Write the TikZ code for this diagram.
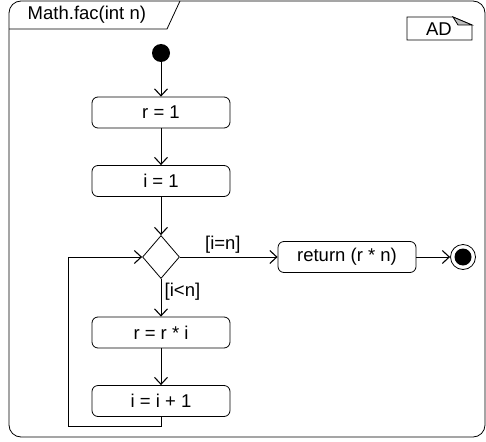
\documentclass[tikz,border=0pt]{standalone}
\usepackage{fontspec}
\setmainfont{Liberation Sans}
\usetikzlibrary{arrows.meta,shapes.geometric}

\begin{document}
\begin{tikzpicture}[x=1pt, y=-1pt, line width=0.8pt,
    >={Straight Barb[length=7pt,width=13pt,line width=1.1pt]},
    every node/.style={font=\fontsize{18.5}{21}\selectfont},
    action/.style={draw, rounded corners=6pt, minimum width=138pt,
      minimum height=31pt, inner sep=0pt},
    decision/.style={draw, diamond, minimum width=37pt,
      minimum height=43pt, inner sep=0pt},
    initial/.style={circle, fill, minimum size=18pt, inner sep=0pt},
    final/.style={circle, draw, minimum size=25pt, inner sep=0pt}]
  \useasboundingbox (0,0) rectangle (486,441);
  % frame
  \draw [rounded corners=12pt] (9,1) rectangle (485,437);
  \draw (9,29) -- (167,29) -- (180,1);
  \node (title) [anchor=west] at (24,15) {Math.fac(int n)};
  \draw (407,17) -- (453,17) -- (472,25) -- (472,40) -- (407,40) -- cycle;
  \filldraw [fill=black!25] (453,17) -- (472,25) -- (458,25) -- cycle;
  \node (ad) at (439,29) {AD};
  % nodes
  \node (start) [initial] at (161,53) {};
  \node (r1) [action] at (161,112.5) {r = 1};
  \node (i1) [action] at (161,181) {i = 1};
  \node (dec) [decision] at (161,257) {};
  \node (ret) [action] at (347,257) {return (r * n)};
  \node (end) [final] at (463,257) {};
  \fill (end.center) circle (8.5pt);
  \node (rri) [action] at (161,332.5) {r = r * i};
  \node (ii1) [action] at (161,401) {i = i + 1};
  \coordinate (loop) at (68,426);
  % flows
  \draw [ -> ] (start) to (r1);
  \draw [ -> ] (r1) to (i1);
  \draw [ -> ] (i1) to (dec);
  \draw [ -> ] (dec) to node [above, pos=0.44] {[i=n]} (ret);
  \draw [ -> ] (ret) to (end);
  \draw [ -> ] (dec) to node [right, pos=0.35] {[i<n]} (rri);
  \draw [ -> ] (rri) to (ii1);
  \draw [ -> ] (ii1.south) |- (loop) |- (dec.west);
\end{tikzpicture}
\end{document}
